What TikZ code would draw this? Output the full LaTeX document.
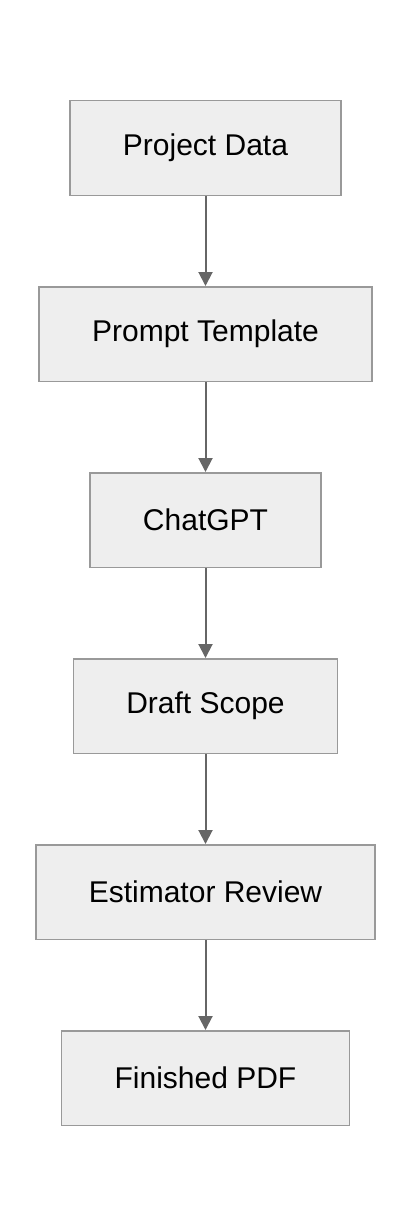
\documentclass[tikz,border=0pt]{standalone}
\usepackage{fontspec}
\setmainfont{Liberation Sans}
\usepackage{xcolor}
\usetikzlibrary{positioning,arrows.meta}
\definecolor{boxfill}{HTML}{EEEEEE}
\definecolor{boxline}{HTML}{999999}
\definecolor{arrowline}{HTML}{666666}
\tikzset{
  stepbox/.style={draw=boxline,fill=boxfill,line width=1.5pt,minimum height=94.5pt,inner xsep=53pt,
    font=\fontsize{30}{35}\selectfont},
  flow/.style={draw=arrowline,line width=2pt,-{Triangle[length=14pt,width=14pt]}}
}
\begin{document}
\begin{tikzpicture}[x=1pt,y=1pt]
\useasboundingbox (0,0) rectangle (410,-1228);
% Drawing boxes
\node[stepbox] (data) at (205.5,-148) {Project Data};
\node[stepbox,below=90pt of data] (prompt) {Prompt Template};
\node[stepbox,below=90pt of prompt] (gpt) {ChatGPT};
\node[stepbox,below=90pt of gpt] (draft) {Draft Scope};
\node[stepbox,below=90pt of draft] (review) {Estimator Review};
\node[stepbox,below=90pt of review] (pdf) {Finished PDF};
% Drawing arrows
\draw[flow] (data) -- (prompt);
\draw[flow] (prompt) -- (gpt);
\draw[flow] (gpt) -- (draft);
\draw[flow] (draft) -- (review);
\draw[flow] (review) -- (pdf);
\end{tikzpicture}
\end{document}
